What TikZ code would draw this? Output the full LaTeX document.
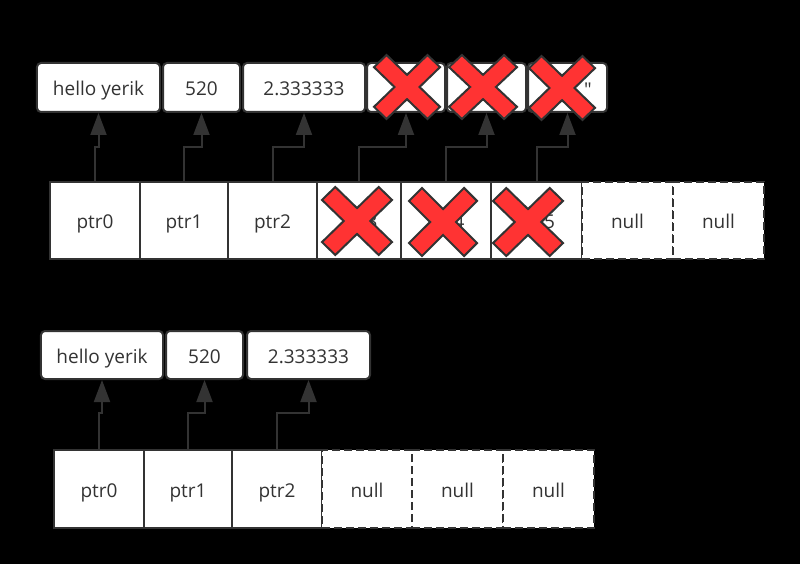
\documentclass[tikz,border=0pt]{standalone}
\usepackage{fontspec}
\setmainfont{Open Sans}
\usetikzlibrary{arrows.meta}
\definecolor{ink}{HTML}{333333}
\definecolor{xred}{HTML}{FF3333}
\begin{document}
\begin{tikzpicture}[x=1bp,y=-1bp,
  every node/.style={font=\fontsize{19bp}{23bp}\selectfont, text=ink, text height=16bp, text depth=0pt},
  valbox/.style={draw=ink, line width=2bp, fill=white, rounded corners=4bp, minimum height=49bp, inner sep=0pt},
  ptrbox/.style={draw=ink, line width=2bp, fill=white, minimum height=77bp, inner sep=0pt},
  nullbox/.style={ptrbox, dash pattern=on 8bp off 4bp},
  arr/.style={draw=ink, line width=2bp, -{Triangle[length=22bp,width=16bp]}},
  bigcross/.pic={\draw[ink, line width=2bp, fill=xred, line join=miter]
    (-1,-0.62) -- (-0.62,-1) -- (0,-0.38) -- (0.62,-1) -- (1,-0.62) -- (0.38,0)
    -- (1,0.62) -- (0.62,1) -- (0,0.38) -- (-0.62,1) -- (-1,0.62) -- (-0.38,0) -- cycle;}
]
\fill[black] (0,0) rectangle (800,564);
\useasboundingbox (0,0) rectangle (800,564);

% ---------- upper diagram ----------
\node[valbox, minimum width=123bp] (v0) at (98.5,87.5) {hello yerik};
\node[valbox, minimum width=77bp] (v1) at (201.5,87.5) {520};
\node[valbox, minimum width=122bp] (v2) at (304,87.5) {2.333333};
\node[valbox, minimum width=78bp] (v3) at (406,87.5) {};
\node[valbox, minimum width=79bp] (v4) at (486.5,87.5) {};
\node[valbox, minimum width=79bp] (v5) at (567.5,87.5) {};
\node[inner sep=0pt] (q5) at (588,89) {\textquotedbl};

\node[ptrbox, minimum width=90bp] (p0) at (95,220.5) {ptr0};
\node[ptrbox, minimum width=88bp] (p1) at (184,220.5) {ptr1};
\node[ptrbox, minimum width=89bp] (p2) at (272.5,220.5) {ptr2};
\node[ptrbox, minimum width=84bp] (p3) at (359,220.5) {ptr3};
\node[ptrbox, minimum width=90bp] (p4) at (446,220.5) {ptr4};
\node[ptrbox, minimum width=91bp] (p5) at (536.5,220.5) {ptr5};
\node[nullbox, minimum width=91bp] (n0) at (627.5,220.5) {null};
\node[nullbox, minimum width=91bp] (n1) at (718.5,220.5) {null};

\draw[arr] (p0.north) -- ++(0,-34) -| (v0.south);
\draw[arr] (p1.north) -- ++(0,-34) -| (v1.south);
\draw[arr] (p2.north) -- ++(0,-34) -| (v2.south);
\draw[arr] (p3.north) -- ++(0,-34) -| (v3.south);
\draw[arr] (p4.north) -- ++(0,-34) -| (v4.south);
\draw[arr] (p5.north) -- ++(0,-34) -| (v5.south);

\pic[xscale=33,yscale=32] at (407,87) {bigcross};
\pic[xscale=34,yscale=32] at (483,87) {bigcross};
\pic[xscale=33,yscale=32] at (562,88) {bigcross};
\pic[xscale=35,yscale=34] at (357,221) {bigcross};
\pic[xscale=34,yscale=34] at (443,222) {bigcross};
\pic[xscale=35,yscale=34] at (528,222) {bigcross};

% ---------- lower diagram ----------
\node[valbox, minimum width=122bp, minimum height=48bp] (w0) at (102,355) {hello yerik};
\node[valbox, minimum width=77bp, minimum height=48bp] (w1) at (204.5,355) {520};
\node[valbox, minimum width=123bp, minimum height=48bp] (w2) at (308.5,355) {2.333333};

\node[ptrbox, minimum width=90bp, minimum height=78bp] (r0) at (99,489) {ptr0};
\node[ptrbox, minimum width=88bp, minimum height=78bp] (r1) at (188,489) {ptr1};
\node[ptrbox, minimum width=90bp, minimum height=78bp] (r2) at (277,489) {ptr2};
\node[nullbox, minimum width=90bp, minimum height=78bp] (m0) at (367,489) {null};
\node[nullbox, minimum width=91bp, minimum height=78bp] (m1) at (457.5,489) {null};
\node[nullbox, minimum width=91bp, minimum height=78bp] (m2) at (548.5,489) {null};

\draw[arr] (r0.north) -- ++(0,-36) -| (w0.south);
\draw[arr] (r1.north) -- ++(0,-36) -| (w1.south);
\draw[arr] (r2.north) -- ++(0,-36) -| (w2.south);
\end{tikzpicture}
\end{document}
